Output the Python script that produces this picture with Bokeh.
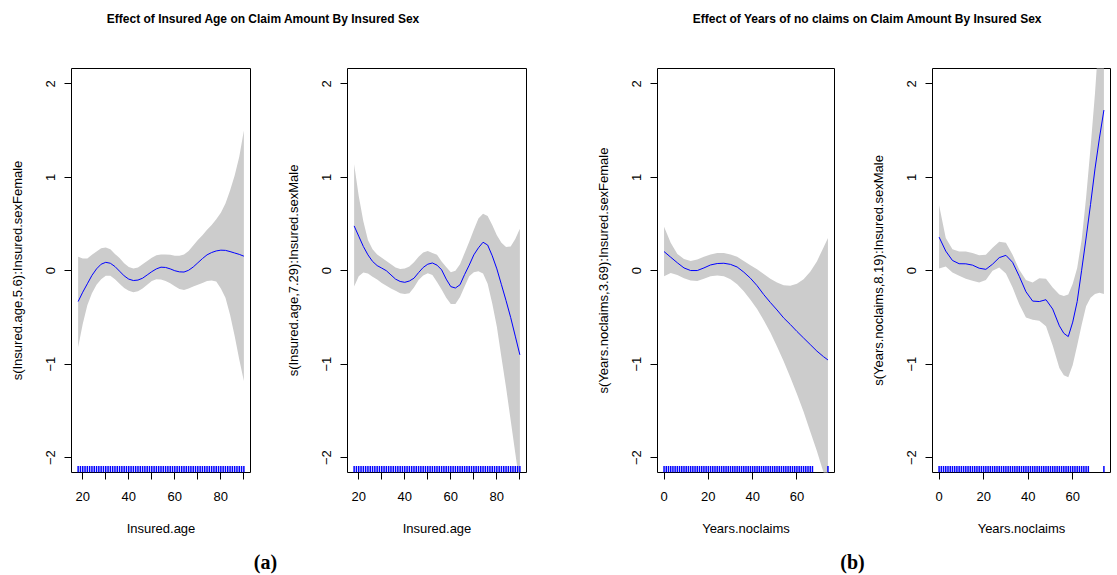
from bokeh.plotting import figure
from bokeh.layouts import column, row
from bokeh.models import Range1d, FixedTicker
from bokeh.core.properties import value
from bokeh.embed import file_html
from bokeh.resources import INLINE

# ---------------- data ----------------
titles = ["Effect of Insured Age on Claim Amount By Insured Sex",
          "Effect of Years of no claims on Claim Amount By Insured Sex"]
captions = ["(a)", "(b)"]

age = [18, 20, 22, 24, 26, 28, 30, 32, 34, 36, 38, 40, 42, 44, 46, 48, 50, 52, 54,
       56, 58, 60, 62, 64, 66, 68, 70, 72, 74, 76, 78, 80, 82, 84, 86, 88, 90]

age_female_fit = [-0.33, -0.23, -0.14, -0.05, 0.02, 0.07, 0.09, 0.08, 0.045, -0.005,
                  -0.055, -0.09, -0.105, -0.10, -0.08, -0.045, -0.01, 0.02, 0.038, 0.035,
                  0.02, 0.0, -0.012, -0.014, 0.005, 0.04, 0.085, 0.13, 0.17, 0.195,
                  0.212, 0.22, 0.218, 0.205, 0.19, 0.175, 0.156]
age_female_upper = [0.15, 0.13, 0.13, 0.17, 0.205, 0.24, 0.25, 0.23, 0.18, 0.135,
                    0.08, 0.04, 0.025, 0.035, 0.07, 0.105, 0.14, 0.165, 0.175, 0.175,
                    0.17, 0.16, 0.16, 0.175, 0.21, 0.27, 0.33, 0.38, 0.44, 0.49,
                    0.55, 0.62, 0.72, 0.86, 1.02, 1.22, 1.5]
age_female_lower = [-0.82, -0.57, -0.37, -0.24, -0.15, -0.09, -0.055, -0.055, -0.09, -0.14,
                    -0.185, -0.215, -0.23, -0.22, -0.19, -0.15, -0.11, -0.09, -0.095, -0.11,
                    -0.135, -0.165, -0.195, -0.205, -0.19, -0.17, -0.15, -0.13, -0.11, -0.105,
                    -0.115, -0.19, -0.29, -0.47, -0.7, -0.95, -1.18]

age_male_fit = [0.48, 0.37, 0.26, 0.17, 0.10, 0.055, 0.028, 0.0, -0.045, -0.09,
                -0.115, -0.124, -0.11, -0.08, -0.02, 0.035, 0.07, 0.083, 0.06, 0.01,
                -0.09, -0.17, -0.185, -0.15, -0.04, 0.06, 0.17, 0.245, 0.305, 0.275,
                0.16, 0.02, -0.15, -0.32, -0.5, -0.7, -0.9]
age_male_upper = [1.14, 0.80, 0.53, 0.33, 0.23, 0.175, 0.14, 0.105, 0.07, 0.035,
                  0.018, 0.025, 0.045, 0.09, 0.15, 0.195, 0.21, 0.19, 0.17, 0.10,
                  0.04, -0.015, 0.0, 0.07, 0.19, 0.31, 0.44, 0.56, 0.61, 0.585,
                  0.49, 0.38, 0.3, 0.255, 0.26, 0.34, 0.45]
age_male_lower = [-0.17, -0.06, -0.02, -0.03, -0.065, -0.095, -0.13, -0.16, -0.19, -0.215,
                  -0.24, -0.25, -0.24, -0.18, -0.1, -0.05, -0.028, -0.045, -0.12, -0.2,
                  -0.29, -0.355, -0.355, -0.28, -0.17, -0.06, -0.015, -0.005, -0.03, -0.14,
                  -0.35, -0.6, -0.93, -1.25, -1.6, -1.95, -2.3]

years_f = [0, 3, 6, 9, 12, 15, 18, 21, 24, 27, 30, 33, 36, 39, 42, 45, 48, 51, 54,
           57, 60, 63, 66, 69, 72, 74]

yrs_female_fit = [0.205, 0.145, 0.085, 0.03, 0.002, 0.002, 0.03, 0.062, 0.077, 0.08,
                  0.068, 0.04, -0.015, -0.08, -0.16, -0.255, -0.34, -0.42, -0.505, -0.575,
                  -0.65, -0.72, -0.79, -0.86, -0.92, -0.955]
yrs_female_upper = [0.47, 0.3, 0.18, 0.125, 0.105, 0.12, 0.15, 0.175, 0.19, 0.19,
                    0.175, 0.15, 0.105, 0.06, 0.015, -0.035, -0.085, -0.125, -0.155, -0.16,
                    -0.14, -0.09, -0.01, 0.1, 0.25, 0.35]
yrs_female_lower = [-0.06, -0.025, -0.045, -0.08, -0.105, -0.11, -0.085, -0.06, -0.052, -0.06,
                    -0.09, -0.145, -0.22, -0.31, -0.41, -0.53, -0.66, -0.81, -0.97, -1.14,
                    -1.32, -1.51, -1.72, -1.93, -2.16, -2.4]

years_m = [0, 3, 6, 9, 12, 15, 18, 21, 24, 27, 30, 33, 36, 39, 42, 45, 48, 51, 54,
           56, 58, 60, 62, 64, 66, 68, 70, 72, 74]

yrs_male_fit = [0.36, 0.21, 0.11, 0.075, 0.074, 0.06, 0.027, 0.015, 0.07, 0.14,
                0.165, 0.09, -0.06, -0.225, -0.325, -0.33, -0.31, -0.41, -0.59,
                -0.67, -0.705, -0.55, -0.33, 0.005, 0.35, 0.71, 1.09, 1.42, 1.72]
yrs_male_upper = [0.7, 0.35, 0.23, 0.205, 0.205, 0.19, 0.167, 0.17, 0.245, 0.31,
                  0.3, 0.17, 0.01, -0.1, -0.125, -0.08, -0.085, -0.18, -0.255,
                  -0.27, -0.255, -0.14, 0.03, 0.33, 0.78, 1.32, 1.9, 2.6, 3.0]
yrs_male_lower = [0.025, 0.045, -0.02, -0.055, -0.085, -0.108, -0.125, -0.1, 0.0, 0.035,
                  -0.03, -0.18, -0.36, -0.5, -0.525, -0.535, -0.595, -0.8, -1.04,
                  -1.12, -1.14, -1.01, -0.8, -0.58, -0.38, -0.29, -0.25, -0.235, -0.25]

rug_age = [18, 19, 20, 21, 22, 23, 24, 25, 26, 27, 28, 29, 30, 31, 32, 33, 34, 35, 36,
           37, 38, 39, 40, 41, 42, 43, 44, 45, 46, 47, 48, 49, 50, 51, 52, 53, 54, 55,
           56, 57, 58, 59, 60, 61, 62, 63, 64, 65, 66, 67, 68, 69, 70, 71, 72, 73, 74,
           75, 76, 77, 78, 79, 80, 81, 82, 83, 84, 85, 86, 87, 88, 89, 90]
rug_years = [0, 1, 2, 3, 4, 5, 6, 7, 8, 9, 10, 11, 12, 13, 14, 15, 16, 17, 18, 19, 20,
             21, 22, 23, 24, 25, 26, 27, 28, 29, 30, 31, 32, 33, 34, 35, 36, 37, 38, 39,
             40, 41, 42, 43, 44, 45, 46, 47, 48, 49, 50, 51, 52, 53, 54, 55, 56, 57, 58,
             59, 60, 61, 62, 63, 64, 65, 66, 67, 74]

age_ticks = [20, 30, 40, 50, 60, 70, 80, 90]
age_tick_labels = ["20", "", "40", "", "60", "", "80", ""]
years_ticks = [0, 20, 40, 60]
years_tick_labels = ["0", "20", "40", "60"]
y_ticks = [-2, -1, 0, 1, 2]
y_tick_labels = ["\u22122", "\u22121", "0", "1", "2"]

# ---------------- styling ----------------
FONT = "Liberation Sans"
BAND = "#CCCCCC"
BLUE = "#0000FF"
Y_RANGE = (-2.16, 2.165)
RUG_LEN = 0.069


def blank_fig(w, h, xr, yr):
    f = figure(width=w, height=h, x_range=Range1d(0, xr), y_range=Range1d(0, yr),
               output_backend="svg", toolbar_location=None,
               x_axis_location=None, y_axis_location=None, min_border=0)
    f.xgrid.visible = False
    f.ygrid.visible = False
    f.outline_line_color = None
    f.background_fill_color = "white"
    f.border_fill_color = "white"
    return f


def panel(w, h, bl, br, bt, bb, xr, xt, xtl, xs, fit, up, lo, rug, xlabel, ylabel):
    p = figure(width=w, height=h, x_range=Range1d(*xr), y_range=Range1d(*Y_RANGE),
               output_backend="svg", toolbar_location=None,
               min_border_left=bl, min_border_right=br,
               min_border_top=bt, min_border_bottom=bb)
    p.xgrid.visible = False
    p.ygrid.visible = False
    p.outline_line_color = "black"
    p.outline_line_width = 1
    p.background_fill_color = "white"
    p.border_fill_color = "white"

    p.varea(x=xs, y1=lo, y2=up, fill_color=BAND, fill_alpha=1)
    p.line(x=xs, y=fit, line_color=BLUE, line_width=1)
    y0 = Y_RANGE[0]
    p.segment(x0=rug, y0=[y0] * len(rug), x1=rug, y1=[y0 + RUG_LEN] * len(rug),
              line_color=BLUE, line_width=1.5)

    p.xaxis.ticker = FixedTicker(ticks=xt)
    p.xaxis.major_label_overrides = {t: l for t, l in zip(xt, xtl)}
    p.yaxis.ticker = FixedTicker(ticks=y_ticks)
    p.yaxis.major_label_overrides = {t: l for t, l in zip(y_ticks, y_tick_labels)}
    p.yaxis.major_label_orientation = "vertical"
    p.xaxis.axis_label = xlabel
    p.yaxis.axis_label = ylabel
    for ax in (p.xaxis[0], p.yaxis[0]):
        ax.axis_line_color = None
        ax.major_tick_out = 7
        ax.major_tick_in = 0
        ax.minor_tick_out = 0
        ax.minor_tick_in = 0
        ax.major_tick_line_color = "black"
        ax.major_label_text_font = FONT
        ax.major_label_text_font_size = "13px"
        ax.major_label_text_color = "black"
        ax.axis_label_text_font = FONT
        ax.axis_label_text_font_size = "13px"
        ax.axis_label_text_font_style = "normal"
        ax.axis_label_text_color = "black"
    p.xaxis.major_label_standoff = 12
    p.xaxis.axis_label_standoff = 17
    p.yaxis.major_label_standoff = 9
    p.yaxis.axis_label_standoff = 19
    return p


p1 = panel(280, 505, 71, 30, 25, 73, (15.12, 92.88), age_ticks, age_tick_labels,
           age, age_female_fit, age_female_upper, age_female_lower, rug_age,
           "Insured.age", "s(Insured.age,5.6):Insured.sexFemale")
p2 = panel(280, 505, 67, 34, 25, 73, (15.12, 92.88), age_ticks, age_tick_labels,
           age, age_male_fit, age_male_upper, age_male_lower, rug_age,
           "Insured.age", "s(Insured.age,7.29):Insured.sexMale")
p3 = panel(280, 505, 97, 6, 28, 71, (-2.96, 76.96), years_ticks, years_tick_labels,
           years_f, yrs_female_fit, yrs_female_upper, yrs_female_lower, rug_years,
           "Years.noclaims", "s(Years.noclaims,3.69):Insured.sexFemale")
p4 = panel(277, 505, 92, 7, 28, 71, (-2.96, 76.96), years_ticks, years_tick_labels,
           years_m, yrs_male_fit, yrs_male_upper, yrs_male_lower, rug_years,
           "Years.noclaims", "s(Years.noclaims,8.19):Insured.sexMale")

top = blank_fig(1117, 40, 1117, 40)
top.text(x=[263, 867], y=[22, 22], text=titles, text_font=value(FONT),
         text_font_style="bold", text_font_size="12px", text_color="black",
         text_align="center", text_baseline="middle")

bottom = blank_fig(1117, 30, 1117, 30)
bottom.text(x=[265, 852], y=[14, 14], text=captions, text_font=value("Liberation Serif"),
            text_font_style="bold", text_font_size="20px", text_color="black",
            text_align="center", text_baseline="middle")

layout = column(top, row(p1, p2, p3, p4, spacing=0), bottom, spacing=0)
open("out.html", "w").write(file_html(layout, INLINE))
